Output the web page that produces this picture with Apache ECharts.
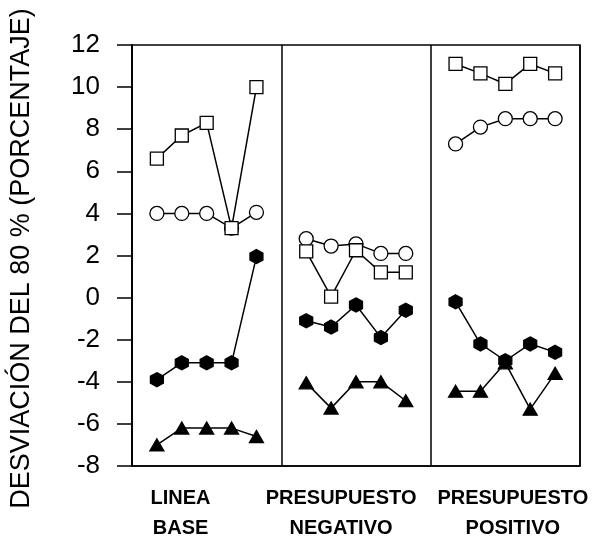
<!DOCTYPE html>
<html>
<head>
<meta charset="utf-8">
<script src="https://cdn.jsdelivr.net/npm/echarts@6/dist/echarts.min.js"></script>
<style>
  html, body { margin: 0; padding: 0; background: #fff; }
  #main { width: 592px; height: 548px; }
</style>
</head>
<body>
<div id="main"></div>
<script>
// sesiones de cada fase (posición en el eje x)
const sesiones = [[1, 2, 3, 4, 5], [7, 8, 9, 10, 11], [13, 14, 15, 16, 17]];
const fases = ['LINEA\nBASE', 'PRESUPUESTO\nNEGATIVO', 'PRESUPUESTO\nPOSITIVO'];
const posEtiquetas = [1.95, 8.4, 15.3];
const yTicks = [-8, -6, -4, -2, 0, 2, 4, 6, 8, 10, 12];

// valores por fase: [base, negativo, positivo]
const cuadrados = [
  [6.6, 7.7, 8.3, 3.3, 10.0],
  [2.2, 0.05, 2.25, 1.2, 1.2],
  [11.1, 10.65, 10.15, 11.1, 10.65]
];
const circulos = [
  [4.0, 4.0, 4.0, 3.3, 4.05],
  [2.8, 2.45, 2.55, 2.1, 2.1],
  [7.3, 8.1, 8.5, 8.5, 8.5]
];
const hexagonos = [
  [-3.9, -3.1, -3.1, -3.1, 1.95],
  [-1.1, -1.4, -0.35, -1.9, -0.6],
  [-0.2, -2.2, -3.0, -2.2, -2.6]
];
const triangulos = [
  [-7.0, -6.2, -6.2, -6.2, -6.6],
  [-4.05, -5.25, -4.0, -4.0, -4.9],
  [-4.45, -4.45, -3.1, -5.3, -3.6]
];

const hexPath = 'path://M0,-1L0.866,-0.5L0.866,0.5L0,1L-0.866,0.5L-0.866,-0.5Z';
const fontFam = '"Liberation Sans", Arial, sans-serif';

function makeSeries(valores, symbol, size, fill) {
  return valores.map((vals, f) => ({
    type: 'line',
    data: vals.map((v, i) => [sesiones[f][i], v]),
    symbol: symbol,
    symbolSize: size,
    showSymbol: true,
    lineStyle: { color: '#000', width: 1.5 },
    itemStyle: { color: fill, borderColor: '#000', borderWidth: 1.3 },
    emphasis: { disabled: true },
    silent: true,
    animation: false
  }));
}

const chart = echarts.init(document.getElementById('main'));
const option = {
  animation: false,
  textStyle: { fontFamily: fontFam, color: '#000' },
  grid: {
    left: 132, right: 12, top: 45, bottom: 82,
    show: true, borderColor: '#000', borderWidth: 1.5
  },
  xAxis: [{
    type: 'value', min: 0, max: 18, interval: 6,
    axisLine: { show: true, onZero: false, lineStyle: { color: '#000', width: 1.5 } },
    axisTick: { show: false },
    axisLabel: { show: false },
    splitLine: { show: true, lineStyle: { color: '#000', width: 1.5 } }
  }, {
    type: 'value', min: 0, max: 18, position: 'bottom',
    axisLine: { show: false, onZero: false },
    axisTick: { show: false },
    splitLine: { show: false },
    axisLabel: {
      customValues: posEtiquetas,
      formatter: function (v) {
        const k = posEtiquetas.indexOf(v);
        return k >= 0 ? fases[k] : '';
      },
      fontSize: 20, fontWeight: 'bold', lineHeight: 30,
      color: '#000', margin: 17, fontFamily: fontFam
    }
  }],
  yAxis: {
    type: 'value', min: yTicks[0], max: yTicks[yTicks.length - 1], interval: 2,
    name: 'DESVIACIÓN DEL 80 % (PORCENTAJE)',
    nameLocation: 'middle', nameGap: 97,
    nameTextStyle: { fontSize: 27, color: '#000', fontFamily: fontFam, padding: [0, 6, 0, 0] },
    axisLine: { show: true, onZero: false, lineStyle: { color: '#000', width: 1.5 } },
    axisTick: { show: true, length: 15, lineStyle: { color: '#000', width: 1.5 } },
    axisLabel: { fontSize: 26, color: '#000', margin: 32, fontFamily: fontFam },
    splitLine: { show: false }
  },
  series: [].concat(
    makeSeries(triangulos, 'triangle', [14, 12], '#000'),
    makeSeries(hexagonos, hexPath, [13, 14], '#000'),
    makeSeries(circulos, 'circle', 14, '#fff'),
    makeSeries(cuadrados, 'rect', 13, '#fff')
  )
};
chart.setOption(option);
</script>
</body>
</html>
